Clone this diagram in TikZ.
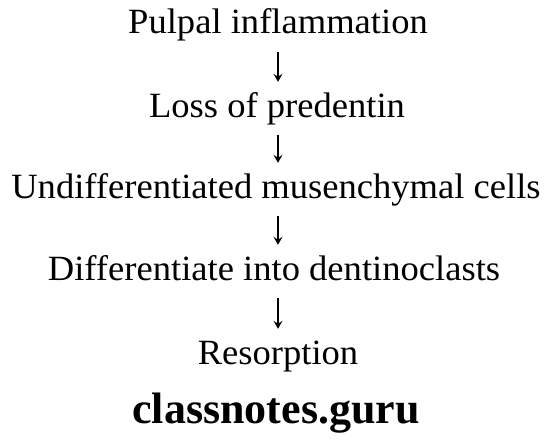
\documentclass[tikz,border=0pt]{standalone}
\usepackage{fontspec}
\setmainfont{Liberation Serif}
\newfontfamily\stagefont[FakeStretch=1.03]{Liberation Serif}
\usetikzlibrary{arrows.meta}
\begin{document}
\begin{tikzpicture}[x=1pt,y=-1pt,
  stage/.style={inner sep=0pt,font=\stagefont\fontsize{35.5}{40}\selectfont,anchor=base,text height=26pt,text depth=8pt},
  link/.style={-{Stealth[length=8pt,width=9pt,inset=3pt]},line width=1.2pt,shorten <=10pt,shorten >=9pt},
  brand/.style={inner sep=0pt,anchor=base,font=\fontsize{44}{50}\selectfont\bfseries}]
\useasboundingbox (0,0) rectangle (551,444);
\node[stage] (a) at (278,34) {Pulpal inflammation};
\node[stage] (b) at (277,117) {Loss of predentin};
\node[stage] (c) at (276,198) {Undifferentiated musenchymal cells};
\node[stage] (d) at (274,280) {Differentiate into dentinoclasts};
\node[stage] (e) at (278,364) {Resorption};
\node[brand] (f) at (276,423) {classnotes.guru};
\draw[link] (a.south) -- (a.south |- b.north);
\draw[link] (b.south -| a) -- (a |- c.north);
\draw[link] (c.south -| a) -- (a |- d.north);
\draw[link] (d.south -| a) -- (e.north);
\end{tikzpicture}
\end{document}
